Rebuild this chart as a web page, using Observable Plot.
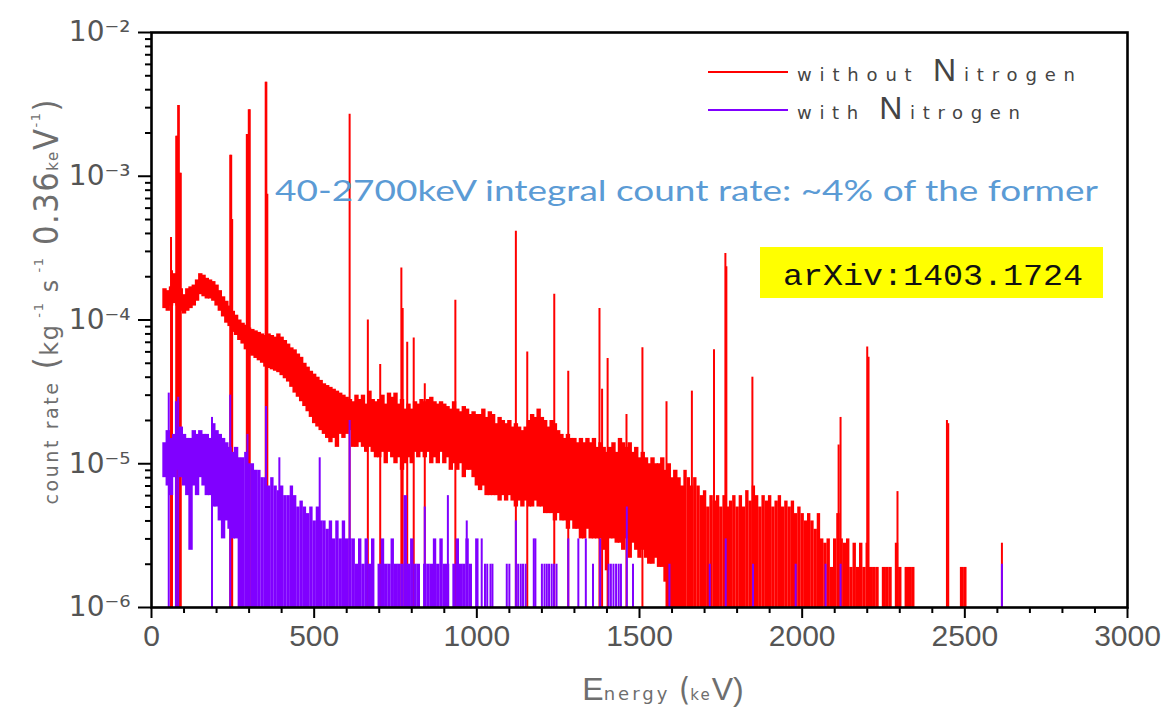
<!DOCTYPE html>
<html>
<head>
<meta charset="utf-8">
<script src="https://cdn.jsdelivr.net/npm/d3@7"></script>
<script src="https://cdn.jsdelivr.net/npm/@observablehq/plot@0.6"></script>
<style>
  body { margin: 0; background: #fff; }
  #wrap { position: relative; width: 1169px; height: 709px; overflow: hidden; background: #fff; }
  #wrap > svg { position: absolute; left: 0; top: 0; }
  #overlay { pointer-events: none; }
</style>
</head>
<body>
<div id="wrap"></div>
<script>
// ---------------- DATA (count rate in units of 1e-6 kg^-1 s^-1 (0.36 keV)^-1) ----------------
const UNIT = 1e-6;
const xTicks = [0, 500, 1000, 1500, 2000, 2500, 3000];
const xMinorTicks = [100,200,300,400,600,700,800,900,1100,1200,1300,1400,1600,1700,1800,1900,2100,2200,2300,2400,2600,2700,2800,2900];
const yTicks = [1e-6, 1e-5, 1e-4, 1e-3, 1e-2];
const yMinorTicks = [2e-6,3e-6,4e-6,5e-6,6e-6,7e-6,8e-6,9e-6, 2e-5,3e-5,4e-5,5e-5,6e-5,7e-5,8e-5,9e-5,
                     2e-4,3e-4,4e-4,5e-4,6e-4,7e-4,8e-4,9e-4, 2e-3,3e-3,4e-3,5e-3,6e-3,7e-3,8e-3,9e-3];

// spectrum bins: first bin energy and bin step (keV)
const binStart = 40, binStep = 10;

// without Nitrogen: upper / lower envelope of the noisy spectrum per 10 keV bin
const redHi = [
  165,160,170,210,180,165,150,165,170,175,   // 40-130
  190,210,205,195,190,185,175,160,145,135,   // 140-230
  125,115,108,100,95,92,88,86,84,82,         // 240-330
  80,78,80,78,76,80,76,72,68,64,             // 340-430
  62,58,55,50,47,44,42,40,38,36,             // 440-530
  35,34,33,32,31,30,29,28,27,30,             // 540-630
  28,30,26,32,28,27,28,30,26,31,             // 640-730
  29,31,26,28,24,26,24,27,26,28,             // 740-830
  27,28,29,27,26,27,26,25,24,27,             // 840-930
  24,23,25,24,22,23,22,22,24,21,             // 940-1030
  23,22,19,21,20,19,20,18,19,18,             // 1040-1130
  17,18,20,22,21,24,21,20,18,20,             // 1140-1230
  19,17,16,15,16,15,15,14,15,14,             // 1240-1330
  15,14,15,13,14,13,12,13,14,12,             // 1340-1430
  15,14,13,14,12,13,11,12,11,10,             // 1440-1530
  11,10,10,11,9,10,8,9,8,7,                  // 1540-1630
  9,8,7,8,7,6,6.5,5,6,5.5,                   // 1640-1730
  6,5,6,5,5.5,6,5,6,5,6.5,                   // 1740-1830
  5.5,7,6,5,6,5.5,6,5,5.5,6,                 // 1840-1930
  5,5.5,5,5.5,4.5,5,4.5,4,4.5,4,             // 1940-2030
  3.5,4.5,3,2.8,3,1.9,3,4.5,3,2.8,           // 2040-2130
  3,1.9,2.8,1.9,2.8,1.9,2.8,1.9,1.9,1.9,     // 2140-2230
  null,1.9,1.9,1.9,null,2.8,1.9,null,1.9,1.9,// 2240-2330
  1.9,null,null,null,null,null,null,null,null,null, // 2340-2430
  null,null,null,null,null,1.9,1.9,null,null // 2440-2520
];
const redLo = [
  120,115,125,130,125,115,110,115,120,125,
  135,150,145,140,140,135,125,115,105,95,
  90,82,78,72,68,62,58,56,54,52,
  50,47,46,45,44,43,41,39,37,34,
  31,29,27,25,23,21,19,18,17,16,
  15,14,15,13,16,15,16,17,13,13,
  14,13,12,13,12,11,11,12,10,12,
  11,10,11,9,10,11,10,12,11,12,
  11,12,10,11,10,12,10,11,9,10,
  9,10,8,9,9,8,7,6.5,7,6,
  6,6,6,5.5,6,5.5,6,5.5,5,5.5,
  5,5.5,5,5,5.5,5,5,4.5,4.5,4.5,
  4,4.5,4,4,3.5,4,3.5,3.5,3,3,
  3.5,3,3,3,3,2.5,1.8,3,3,2.8,
  2.8,2.5,3,2.2,2.8,2.5,2.2,2.5,2.2,2,
  2,2.2,1.9,1.9,1.5,1,null,null,null,null
];
// without Nitrogen: gamma lines (keV, height)
const redPeakE = [60,63,76,79,82,84,87,90,242,245,248,293,296,299,302,351,353,356,609,665,703,768,772,786,806,840,934,1120,1155,1238,1281,1377,1385,1402,1460,1509,1583,1661,1729,1764,1767,1847,2112,2118,2200,2204,2293,2445,2449,2614];
const redPeakV = [375,220,1900,1900,3100,3100,1050,1050,1400,1400,500,1950,1950,2900,2900,4500,4500,750,2700,100,49,230,120,70,75,36,137,415,60,151,44,120,33,54,22,64,27,32,62,290,235,40,13.5,21,65,55,6.4,20,19,2.8];

// with Nitrogen: envelope for 40-1000 keV
const purpleHi = [
  14,17,15,16,17,18,16,15,15,17,             // 40-130
  16,17,16,16,15,19,17,16,15,14,             // 140-230
  13,12,13,11,11,12,10,10,9,9,               // 240-330
  8,8,7,8,7,6.5,7,6,6,7,                     // 340-430
  6,5,5.5,5,4.5,5,4,5,4,4,                   // 440-530
  3.5,4,3,4,3,4,3,3,3,2,                     // 540-630
  3,2,3,2,3,null,2,3,2,2,                    // 640-730
  3,2,2,2,6,2,3,2,2,null,                    // 740-830
  2,2,2,3,2,3,2,2,null,2,                    // 840-930
  3,2,2,3,2,null,3                           // 940-1000
];
const purpleLo = [
  8,7,6,8,9,8,7,6,2.5,7,
  6,8,7,6,6,5,5,4,3,4,
  3.5,3,3
];
const purplePeakE = [53,75,82,186,242,295,352,393,517,609,840,911,969];
const purplePeakV = [31,27,29,21,30,16,25,11,11,20,5,6,4];
// with Nitrogen: isolated channels above 1000 keV
const purpleHitE = [1015,1025,1032,1042,1048,1092,1100,1120,1127,1135,1142,1150,1175,1180,1200,1208,1215,1222,1230,1237,1245,1281,1312,1335,1357,1379,1405,1412,1420,1428,1436,1443,1461,1480,1592,1716,1765,1849,1980,2072,2118,2614];
const purpleHitV = [3,2,2,2,2,2,2,4,2,2,2,2,3,3,2,2,2,2,2,2,2,3,3,3,2,3,2,2,2,2,2,2,5,2,2,2,3,2,2,2,2,2];

// ---------------- BUILD ----------------
const RED = "#ff0000", PURPLE = "#8000ff";
const FLOOR = 0.8; // zero / single-count channels sit just under the 1e-6 axis (clipped)

function bins(hi, lo) {
  return hi.map((h, i) => ({
    E: binStart + i * binStep,
    hi: h == null ? null : h * UNIT,
    lo: (lo[i] ?? FLOOR) * UNIT
  })).filter(d => d.hi != null);
}
const redBins = bins(redHi, redLo);
const purpleBins = bins(purpleHi, purpleLo);
const lines = (E, V) => E.map((e, i) => ({E: e, hi: V[i] * UNIT, lo: FLOOR * UNIT}));
const redPeaks = lines(redPeakE, redPeakV);
const purplePeaks = lines(purplePeakE, purplePeakV);
const purpleHits = lines(purpleHitE, purpleHitV);

const supMap = {"-": "\u207B", "0": "\u2070", "1": "\u00B9", "2": "\u00B2", "3": "\u00B3", "4": "\u2074", "5": "\u2075", "6": "\u2076", "7": "\u2077", "8": "\u2078", "9": "\u2079"};
const powFmt = d => "10" + String(Math.round(Math.log10(d))).replace(/./g, c => supMap[c]);

const rule = (data, stroke, w) => Plot.ruleX(data, {x: "E", y1: "lo", y2: "hi", stroke, strokeWidth: w, clip: true});

const chart = Plot.plot({
  width: 1169, height: 709,
  marginLeft: 151, marginRight: 42, marginTop: 32, marginBottom: 102,
  x: {domain: [0, 3000]},
  y: {type: "log", domain: [1e-6, 1e-2]},
  style: {background: "transparent", color: "black", overflow: "visible"},
  marks: [
    rule(redBins.filter(d => d.E < 1640), RED, 4.4),
    rule(redBins.filter(d => d.E >= 1640), RED, 3.4),
    rule(redPeaks, RED, 2),
    rule(purpleBins.filter(d => d.E < 270), PURPLE, 4.4),
    rule(purpleBins.filter(d => d.E >= 270), PURPLE, 3.4),
    rule(purplePeaks, PURPLE, 2),
    rule(purpleHits, PURPLE, 2),
    Plot.axisX({ticks: xTicks, tickSize: 11, tickPadding: 6, tickFormat: d => String(d), label: null,
                fontSize: 30, fontFamily: "Liberation Sans, Arial, sans-serif", fill: "#555", stroke: "black", strokeWidth: 2}),
    Plot.axisX({ticks: xMinorTicks, tickSize: 6, tickFormat: () => "", label: null, stroke: "black", strokeWidth: 2}),
    Plot.axisY({ticks: yTicks, tickSize: 13, tickPadding: 8, tickFormat: powFmt, label: null,
                fontSize: 28, fontFamily: "DejaVu Sans, sans-serif", fill: "#555", stroke: "black", strokeWidth: 2}),
    Plot.axisY({ticks: yMinorTicks, tickSize: 6, tickFormat: () => "", label: null, stroke: "black", strokeWidth: 2}),
    Plot.frame({stroke: "black", strokeWidth: 2.6})
  ]
});
const wrap = document.getElementById("wrap");
wrap.appendChild(chart);

// ---------------- annotations / legend / axis titles (overlay) ----------------
const ns = "http://www.w3.org/2000/svg";
const ov = document.createElementNS(ns, "svg");
ov.setAttribute("id", "overlay");
ov.setAttribute("width", 1169); ov.setAttribute("height", 709);
const NARROW = "Liberation Sans Narrow, DejaVu Sans Condensed, sans-serif";
ov.innerHTML = `
  <g font-family="DejaVu Sans, sans-serif" fill="#6e6e6e">
    <text transform="translate(58,302) rotate(-90)" text-anchor="middle" textLength="405" lengthAdjust="spacing">
      <tspan font-size="19" letter-spacing="1">count rate</tspan><tspan font-size="34" font-family="${NARROW}"> (</tspan><tspan font-size="24">kg</tspan><tspan font-size="13" dy="-15"> -1</tspan><tspan font-size="24" dy="15"> s</tspan><tspan font-size="13" dy="-15"> -1</tspan><tspan font-size="34" dy="15" font-family="${NARROW}" font-weight="300"> 0.36</tspan><tspan font-size="15">ke</tspan><tspan font-size="34" font-family="${NARROW}">V</tspan><tspan font-size="13" dy="-18">-1</tspan><tspan font-size="34" dy="18" font-family="${NARROW}">)</tspan>
    </text>
    <text x="663" y="700" text-anchor="middle">
      <tspan font-size="32" font-family="Liberation Sans, sans-serif">E</tspan><tspan font-size="18" letter-spacing="3">nergy </tspan><tspan font-size="32" font-family="${NARROW}">(</tspan><tspan font-size="15" letter-spacing="2">ke</tspan><tspan font-size="32" font-family="Liberation Sans, sans-serif">V)</tspan>
    </text>
  </g>
  <line x1="708" x2="788" y1="72" y2="72" stroke="${RED}" stroke-width="2"/>
  <line x1="708" x2="788" y1="110" y2="110" stroke="${PURPLE}" stroke-width="2"/>
  <g font-family="DejaVu Sans, sans-serif" fill="#444">
    <text x="797" y="81" textLength="278" lengthAdjust="spacing"><tspan font-size="18">without </tspan><tspan font-size="32" font-family="Liberation Sans, sans-serif">N</tspan><tspan font-size="18">itrogen</tspan></text>
    <text x="797" y="119" textLength="223" lengthAdjust="spacing"><tspan font-size="18">with </tspan><tspan font-size="32" font-family="Liberation Sans, sans-serif">N</tspan><tspan font-size="18">itrogen</tspan></text>
  </g>
  <text x="275" y="201" font-family="Lato, sans-serif" font-size="28" fill="#5b9bd5" textLength="823" lengthAdjust="spacingAndGlyphs">40-2700keV integral count rate: ~4% of the former</text>
  <rect x="760" y="247" width="343" height="51" fill="#ffff00"/>
  <text x="783" y="285" font-family="Liberation Mono, DejaVu Sans Mono, monospace" font-size="29" fill="#111" textLength="300" lengthAdjust="spacingAndGlyphs">arXiv:1403.1724</text>
`;
wrap.appendChild(ov);
</script>
</body>
</html>
